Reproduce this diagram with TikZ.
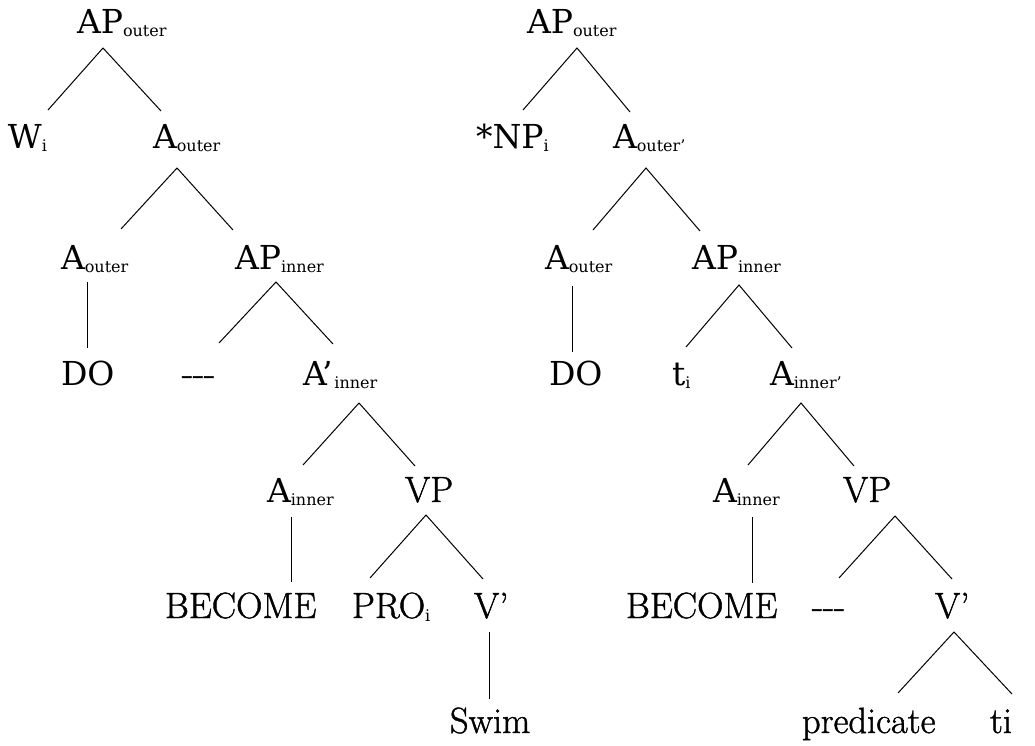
\documentclass[tikz,border=0pt]{standalone}
\usepackage{fontspec}
% heavy serif face for the category labels, Latin Modern for the lexical items
\newfontfamily\catface{DejaVu Serif}
\newfontfamily\lexface[FakeBold=1.2]{Latin Modern Roman}
\newcommand\schfont{\catface\fontsize{33}{38}\selectfont}
\newcommand\cmfont{\lexface\fontsize{36.5}{42}\selectfont}
\newcommand\sbs[1]{\raisebox{-3pt}{\catface\fontsize{16}{18}\selectfont #1}}
\newcommand\gapdash{\hbox{-}\hbox{-}\hbox{-}}
\tikzset{
  lab/.style={inner sep=0pt, outer sep=0pt, anchor=base west},
  edge/.style={line width=1pt, black}
}
\begin{document}
\begin{tikzpicture}[x=1pt,y=-1pt]
\useasboundingbox (0,0) rectangle (1035,746);

% ---------------- left tree ----------------
\node[lab] (ap1)   at (77,34)   {\schfont AP\sbs{outer}};
\node[lab] (w)     at (8,149)   {\schfont W\sbs{i}};
\node[lab] (ao1)   at (153,149) {\schfont A\sbs{outer}};
\node[lab] (ao2)   at (61,269)  {\schfont A\sbs{outer}};
\node[lab] (api1)  at (235,269) {\schfont AP\sbs{inner}};
\node[lab] (do1)   at (61,385)  {\schfont DO};
\node[lab] (dash1) at (182,385) {\cmfont\gapdash};
\node[lab] (aip)   at (303,385) {\schfont A’\kern2pt\sbs{inner}};
\node[lab] (ain1)  at (267,502) {\schfont A\sbs{inner}};
\node[lab] (vp1)   at (405,502) {\cmfont VP};
\node[lab] (bec1)  at (165,618) {\cmfont BECOME};
\node[lab] (pro)   at (352,618) {\cmfont PRO\sbs{i}};
\node[lab] (vb1)   at (474,618) {\cmfont V’};
\node[lab] (swim)  at (450,733) {\cmfont Swim};

\coordinate (ap1-b)   at (103,48);
\coordinate (w-t)     at (48,110);
\coordinate (ao1-t)   at (161,111);
\coordinate (ao1-b)   at (177,168);
\coordinate (ao2-t)   at (121,229);
\coordinate (api1-t)  at (233,230);
\coordinate (ao2-b)   at (87,282);
\coordinate (do1-t)   at (87,348);
\coordinate (api1-b)  at (276,282);
\coordinate (dash1-t) at (219,343);
\coordinate (aip-t)   at (333,344);
\coordinate (aip-b)   at (359,403);
\coordinate (ain1-t)  at (303,465);
\coordinate (vp1-t)   at (415,466);
\coordinate (ain1-b)  at (291,517);
\coordinate (bec1-t)  at (291,582);
\coordinate (vp1-b)   at (426,515);
\coordinate (pro-t)   at (370,578);
\coordinate (vb1-t)   at (483,579);
\coordinate (vb1-b)   at (489,632);
\coordinate (swim-t)  at (489,699);

\draw[edge] (w-t) -- (ap1-b) -- (ao1-t);
\draw[edge] (ao2-t) -- (ao1-b) -- (api1-t);
\draw[edge] (ao2-b) -- (do1-t);
\draw[edge] (dash1-t) -- (api1-b) -- (aip-t);
\draw[edge] (ain1-t) -- (aip-b) -- (vp1-t);
\draw[edge] (ain1-b) -- (bec1-t);
\draw[edge] (pro-t) -- (vp1-b) -- (vb1-t);
\draw[edge] (vb1-b) -- (swim-t);

% ---------------- right tree ----------------
\node[lab] (ap2)   at (527,34)  {\schfont AP\sbs{outer}};
\node[lab] (np)    at (476,149) {\schfont *NP\sbs{i}};
\node[lab] (ao3)   at (613,149) {\schfont A\sbs{outer’}};
\node[lab] (ao4)   at (545,269) {\schfont A\sbs{outer}};
\node[lab] (api2)  at (692,269) {\schfont AP\sbs{inner}};
\node[lab] (do2)   at (549,385) {\schfont DO};
\node[lab] (ti1)   at (672,385) {\schfont t\sbs{i}};
\node[lab] (ainp)  at (770,385) {\schfont A\sbs{inner’}};
\node[lab] (ain2)  at (713,502) {\schfont A\sbs{inner}};
\node[lab] (vp2)   at (843,502) {\cmfont VP};
\node[lab] (bec2)  at (626,618) {\cmfont BECOME};
\node[lab] (dash2) at (812,618) {\cmfont\gapdash};
\node[lab] (vb2)   at (935,618) {\cmfont V’};
\node[lab] (pred)  at (802,733) {\cmfont predicate};
\node[lab] (ti2)   at (990,733) {\cmfont ti};

\coordinate (ap2-b)   at (577,48);
\coordinate (np-t)    at (523,110);
\coordinate (ao3-t)   at (630,112);
\coordinate (ao3-b)   at (646,168);
\coordinate (ao4-t)   at (593,230);
\coordinate (api2-t)  at (700,231);
\coordinate (ao4-b)   at (572,286);
\coordinate (do2-t)   at (572,352);
\coordinate (api2-b)  at (739,285);
\coordinate (ti1-t)   at (686,347);
\coordinate (ainp-t)  at (792,348);
\coordinate (ainp-b)  at (801,403);
\coordinate (ain2-t)  at (748,465);
\coordinate (vp2-t)   at (854,466);
\coordinate (ain2-b)  at (752,517);
\coordinate (bec2-t)  at (752,583);
\coordinate (vp2-b)   at (895,516);
\coordinate (dash2-t) at (839,578);
\coordinate (vb2-t)   at (952,579);
\coordinate (vb2-b)   at (954,632);
\coordinate (pred-t)  at (898,693);
\coordinate (ti2-t)   at (1012,694);

\draw[edge] (np-t) -- (ap2-b) -- (ao3-t);
\draw[edge] (ao4-t) -- (ao3-b) -- (api2-t);
\draw[edge] (ao4-b) -- (do2-t);
\draw[edge] (ti1-t) -- (api2-b) -- (ainp-t);
\draw[edge] (ain2-t) -- (ainp-b) -- (vp2-t);
\draw[edge] (ain2-b) -- (bec2-t);
\draw[edge] (dash2-t) -- (vp2-b) -- (vb2-t);
\draw[edge] (pred-t) -- (vb2-b) -- (ti2-t);
\end{tikzpicture}
\end{document}
